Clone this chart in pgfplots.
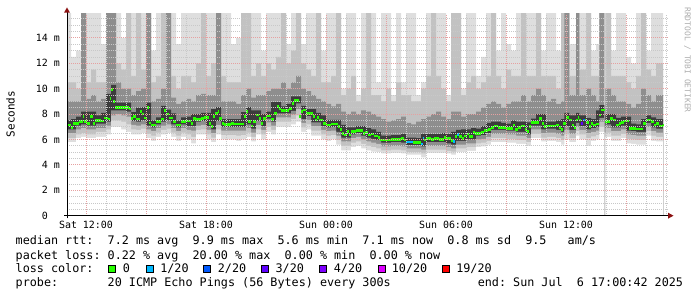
\documentclass[border=0pt]{standalone}
\usepackage{fontspec}
\setmainfont{DejaVu Sans Mono}
\setmonofont{DejaVu Sans Mono}
\usepackage{pgfplots}
\pgfplotsset{compat=1.18}
\usepackage{pgfplotstable}
\frenchspacing
\definecolor{cD}{HTML}{DEDEDE}
\definecolor{cC}{HTML}{C2C2C2}
\definecolor{cB}{HTML}{8E8E8E}
\definecolor{cA}{HTML}{3C3C3C}
\definecolor{lossg}{HTML}{26FF00}
\definecolor{loss1}{HTML}{00B8FF}
\definecolor{loss2}{HTML}{0059FF}
\definecolor{loss3}{HTML}{5E00FF}
\definecolor{loss4}{HTML}{7E00FF}
\definecolor{loss10}{HTML}{DD00FF}
\definecolor{loss19}{HTML}{FF0000}
\definecolor{gridmaj}{HTML}{E6A0A0}
\definecolor{gridmin}{HTML}{C8C8C8}
\definecolor{arrowred}{HTML}{8B1010}

% smoke bands (ms), time in hours from Sat 00:00
\pgfplotstableread{
t l4 l3 l2 l1 h1 h2 h3 h4
11.00 5.8 6.1 6.5 6.8 7.5 9.0 10.5 16
11.25 5.8 6.1 6.5 6.8 7.6 9.0 10.5 12.5
11.50 6.1 6.4 6.8 7.1 7.8 9.0 10.0 13.0
11.75 6.2 6.5 6.9 7.2 8.2 16 16 16
12.00 6.1 6.4 6.8 7.1 8.2 9.2 10.5 16
12.25 6.1 6.4 6.8 7.1 8.2 9.5 11.5 16
12.50 6.2 6.6 6.9 7.25 7.9 9.0 10.5 16
12.75 6.2 6.6 6.9 7.25 8.1 9.2 10.5 13.5
13.00 6.4 6.8 7.1 7.4 9.6 16 16 16
13.25 7.0 7.5 7.9 8.3 10.3 16 16 16
13.50 7.0 7.5 8.0 8.3 8.9 10.5 12.0 16
13.75 6.8 7.4 7.9 8.3 8.9 10.0 11.5 14.0
14.00 6.6 7.2 7.8 8.2 8.9 10.0 16 16
14.25 6.4 6.8 7.15 7.45 8.15 9.5 11.0 16
14.50 6.4 6.75 7.1 7.4 8.5 9.8 16 16
14.75 6.5 6.85 7.2 7.5 8.55 10.0 11.5 16
15.00 6.1 6.45 6.8 7.1 8.9 16 16 16
15.25 5.9 6.3 6.65 6.95 7.5 9.0 10.5 13.0
15.50 6.2 6.55 6.9 7.2 7.75 9.2 11.0 16
15.75 6.4 6.75 7.1 7.4 8.65 10.0 16 16
16.00 6.5 6.85 7.2 7.5 8.35 16 16 16
16.25 6.2 6.55 6.9 7.2 8.05 9.3 11.0 16
16.50 5.9 6.3 6.65 6.95 7.5 8.8 10.0 13.5
16.75 6.2 6.55 6.9 7.2 7.75 9.0 11.0 16
17.00 6.0 6.4 6.75 7.05 7.8 9.2 11.0 16
17.25 5.7 6.2 6.7 7.05 8.0 9.0 10.5 16
17.50 6.4 6.75 7.1 7.4 8.0 9.5 12.0 16
17.75 6.4 6.8 7.15 7.45 8.1 9.6 16 16
18.00 6.0 6.4 6.75 7.05 8.1 9.5 11.0 16
18.25 5.8 6.15 6.5 6.8 8.4 9.5 12.0 16
18.50 6.4 6.8 7.15 7.45 8.55 16 16 16
18.75 6.0 6.35 6.7 7.0 7.6 9.0 11.0 16
19.00 6.0 6.35 6.7 7.0 7.6 9.0 10.5 16
19.25 6.0 6.35 6.7 7.0 7.6 9.0 10.5 13.5
19.50 5.9 6.3 6.7 7.0 7.6 8.8 10.5 14.0
19.75 6.0 6.35 6.7 7.0 8.15 9.5 16 16
20.00 6.2 6.55 6.9 7.2 8.55 10.0 16 16
20.25 5.85 6.2 6.55 6.85 8.3 9.3 11.0 16
20.50 6.4 6.8 7.15 7.45 8.3 9.5 12.0 16
20.75 6.0 6.4 6.75 7.05 8.0 9.5 11.0 13.0
21.00 6.6 7.0 7.35 7.65 8.2 9.8 12.0 16
21.25 6.4 6.75 7.1 7.4 8.95 10.0 11.5 16
21.50 7.0 7.4 7.75 8.05 8.95 10.0 12.5 16
21.75 7.0 7.4 7.75 8.05 8.6 10.5 16 16
22.00 7.0 7.4 7.75 8.05 8.8 10.0 12.0 13.5
22.25 7.2 7.6 7.95 8.25 9.4 10.5 13.0 16
22.50 7.4 7.9 8.4 8.85 9.4 11.0 16 16
22.75 6.6 6.95 7.3 7.6 8.65 10.0 12.0 13.5
23.00 6.8 7.2 7.55 7.85 8.4 9.8 11.5 16
23.25 6.3 6.7 7.05 7.35 8.4 9.5 11.0 16
23.50 6.3 6.7 7.05 7.35 8.1 9.2 16 16
23.75 6.0 6.4 6.75 7.05 7.9 9.0 10.5 13.0
24.00 5.9 6.3 6.65 6.95 7.55 8.8 10.5 16
24.25 6.0 6.35 6.7 7.0 7.55 8.6 11.0 16
24.50 5.6 5.95 6.3 6.6 7.55 8.8 16 16
24.75 5.15 5.5 5.85 6.15 7.15 8.2 9.5 10.0
25.00 5.15 5.5 5.85 6.15 6.95 8.0 10.0 16
25.25 5.4 5.75 6.1 6.4 6.95 8.2 11.0 16
25.50 5.5 5.85 6.2 6.5 7.05 8.0 9.0 9.5
25.75 5.3 5.65 6.0 6.3 7.05 8.3 10.0 16
26.00 5.15 5.5 5.85 6.15 6.9 8.2 16 16
26.25 5.05 5.4 5.75 6.05 6.8 8.0 9.5 16
26.50 5.0 5.3 5.65 5.95 6.6 7.8 9.5 10.5
26.75 4.9 5.15 5.45 5.75 6.3 7.6 9.0 16
27.00 4.9 5.15 5.45 5.75 6.3 7.4 10.0 16
27.25 4.95 5.2 5.5 5.8 6.35 7.5 9.0 9.5
27.50 4.95 5.2 5.5 5.8 6.35 7.6 10.5 16
27.75 4.9 5.15 5.45 5.75 6.45 7.8 9.5 10.5
28.00 4.8 5.0 5.3 5.55 6.15 7.3 9.5 16
28.25 4.8 5.0 5.3 5.55 6.15 7.2 9.0 16
28.50 4.8 5.0 5.3 5.55 6.1 7.4 9.0 9.5
28.75 4.6 4.9 5.2 5.45 6.45 7.6 10.0 10.5
29.00 4.95 5.2 5.5 5.8 6.45 7.8 11.0 16
29.25 4.95 5.2 5.5 5.8 6.45 8.0 16 16
29.50 4.95 5.2 5.5 5.8 6.45 8.2 11.0 16
29.75 4.95 5.2 5.5 5.8 6.5 7.8 10.0 16
30.00 4.9 5.1 5.4 5.7 6.45 7.6 9.0 9.5
30.25 4.8 5.05 5.3 5.6 6.6 8.2 16 16
30.50 5.0 5.3 5.6 5.9 6.75 8.2 16 16
30.75 5.0 5.3 5.6 5.9 6.8 7.8 9.5 10.0
31.00 5.1 5.4 5.7 6.0 6.8 8.0 10.5 16
31.25 5.1 5.4 5.7 6.0 6.9 8.0 11.0 16
31.50 5.4 5.7 6.0 6.3 6.85 8.2 10.0 11.0
31.75 5.45 5.75 6.05 6.35 7.05 8.5 10.5 12.5
32.00 5.6 5.9 6.2 6.5 7.3 8.8 11.0 16
32.25 5.8 6.1 6.45 6.75 7.4 9.0 16 16
32.50 5.8 6.1 6.45 6.75 7.4 8.8 11.0 13.0
32.75 5.8 6.1 6.45 6.75 7.3 8.5 10.0 16
33.00 5.75 6.05 6.4 6.7 7.25 8.8 11.5 13.5
33.25 5.75 6.05 6.4 6.7 7.5 9.0 11.0 13.0
33.50 5.65 5.95 6.3 6.6 7.4 9.0 11.0 16
33.75 5.65 5.95 6.3 6.6 7.4 9.5 16 16
34.00 5.5 5.8 6.1 6.4 7.35 9.0 11.0 16
34.25 6.1 6.45 6.8 7.1 7.65 9.5 11.0 16
34.50 6.1 6.45 6.8 7.1 8.0 10.0 16 16
34.75 5.85 6.15 6.5 6.8 8.0 9.5 11.0 13.0
35.00 5.9 6.2 6.55 6.85 7.4 9.0 11.0 16
35.25 5.9 6.2 6.55 6.85 7.4 9.2 11.0 16
35.50 5.8 6.1 6.45 6.75 7.5 8.8 10.0 13.0
35.75 5.6 5.95 6.3 6.6 7.6 9.0 16 16
35.92 6.0 6.4 6.75 7.05 8.1 16 16 16
36.17 5.8 6.1 6.45 6.75 7.9 9.5 11.0 13.5
36.50 6.3 6.65 7.0 7.3 8.1 16 16 16
36.67 6.0 6.4 6.75 7.05 7.9 9.5 11.5 16
37.00 5.5 6.1 6.5 6.8 7.7 10.0 16 16
37.25 5.9 6.25 6.6 6.9 7.6 9.5 11.0 13.0
37.50 6.0 6.35 6.7 7.0 8.3 9.0 11.0 13.5
37.67 6.6 7.0 7.4 7.7 8.7 16 16 16
37.92 0 0 0 0 0 0 0 0
37.97 6.2 6.55 6.9 7.2 8.0 10.0 16 16
38.25 5.9 6.3 6.65 6.95 8.0 9.5 11.0 13.0
38.50 5.9 6.3 6.65 6.95 7.7 9.0 11.0 16
38.75 6.1 6.45 6.8 7.1 7.8 9.0 11.0 16
39.00 5.7 6.05 6.4 6.7 7.8 8.8 10.5 12.5
39.25 5.65 6.0 6.35 6.65 7.25 8.5 10.0 12.0
39.50 5.6 5.95 6.3 6.6 7.2 8.8 11.0 16
39.75 5.6 5.95 6.3 6.6 7.6 10.0 16 16
40.00 6.3 6.65 7.0 7.3 7.9 9.5 11.5 13.0
40.25 5.9 6.3 6.65 6.95 7.75 9.0 11.0 16
40.50 5.85 6.2 6.55 6.85 7.6 9.5 12.0 16
40.85 5.85 6.2 6.55 6.85 7.6 9.5 12.0 16
}\smoke

% median rtt (ms), held from t to the next t
\pgfplotstableread{
t m
11.00 7.14
11.25 6.96
11.37 7.27
11.67 7.40
11.83 7.80
11.92 7.40
12.03 7.27
12.20 7.80
12.33 7.27
12.43 7.50
12.75 7.45
12.92 7.70
13.08 7.60
13.18 9.24
13.25 9.95
13.37 8.98
13.47 8.54
14.17 8.40
14.25 7.67
14.33 7.80
14.50 7.60
14.70 8.20
14.80 8.00
14.92 7.70
15.03 8.54
15.17 7.30
15.25 7.14
15.50 7.40
15.75 7.60
15.92 8.30
16.00 8.00
16.17 7.70
16.33 7.40
16.50 7.14
16.75 7.40
17.00 7.46
17.25 7.27
17.37 7.67
17.50 7.59
17.75 7.67
17.92 7.74
18.17 7.27
18.25 7.00
18.33 7.80
18.47 8.06
18.58 8.19
18.67 7.67
18.80 7.27
18.92 7.20
19.25 7.27
19.42 7.22
19.92 7.80
20.00 8.19
20.08 7.40
20.25 7.06
20.33 7.40
20.50 7.93
20.63 7.67
20.75 7.27
20.87 7.67
21.00 7.85
21.25 7.59
21.42 8.06
21.53 8.59
21.63 8.40
21.75 8.27
22.17 8.45
22.30 8.85
22.42 9.06
22.67 7.80
22.75 8.19
22.83 8.32
23.00 8.06
23.33 7.80
23.47 7.53
23.53 7.74
23.67 7.53
23.83 7.27
24.00 7.14
24.25 7.22
24.58 7.00
24.70 6.80
24.80 6.49
24.92 6.35
25.03 6.61
25.17 6.35
25.25 6.61
25.50 6.69
25.83 6.49
25.97 6.54
26.08 6.35
26.25 6.43
26.42 6.27
26.58 6.17
26.70 5.96
27.25 6.01
27.75 6.09
27.92 5.96
28.00 5.80
28.33 5.75
28.75 5.64
28.83 6.09
28.92 5.96
29.00 6.09
29.25 6.01
29.42 6.09
29.67 6.01
29.92 6.17
30.00 6.09
30.25 5.91
30.33 5.83
30.47 6.22
30.53 6.40
30.67 6.22
30.80 6.09
30.92 6.27
31.03 6.43
31.17 6.22
31.33 6.54
31.47 6.49
31.75 6.54
31.92 6.69
32.08 6.80
32.25 6.96
32.42 7.06
32.58 6.96
33.00 6.88
33.37 7.14
33.47 6.80
33.58 6.96
33.75 7.06
33.97 6.80
34.03 6.61
34.17 7.01
34.25 7.32
34.67 7.67
34.80 7.27
34.92 7.01
35.00 7.06
35.50 7.14
35.67 6.96
35.75 6.80
35.83 7.27
36.00 7.74
36.17 7.53
36.30 7.14
36.42 6.96
36.50 7.53
36.58 7.74
36.67 7.53
36.75 7.27
36.87 7.53
37.00 7.32
37.13 7.01
37.25 7.27
37.37 7.14
37.50 7.22
37.67 7.93
37.75 8.32
37.97 7.40
38.20 7.67
38.33 7.53
38.50 7.14
38.63 7.27
38.75 7.32
38.92 7.46
39.17 6.88
39.50 6.82
39.83 7.27
40.00 7.53
40.25 7.40
40.42 7.14
40.50 7.27
40.67 7.06
40.83 7.14
40.85 7.14
}\median

\newcommand{\lf}{\fontsize{11.8}{13.8}\selectfont}

\begin{document}
\begin{tikzpicture}
\useasboundingbox (0,0) rectangle (697bp,297bp);
\begin{axis}[
  at={(67bp,81.3bp)}, anchor=south west,
  width=601bp, height=201.93bp, scale only axis,
  xmin=11.05, xmax=41.1, ymin=0, ymax=15.9,
  axis on top,
  axis line style={draw=none},
  xtick={12,15,...,39},
  xticklabels={Sat 12:00,,Sat 18:00,,Sun 00:00,,Sun 06:00,,Sun 12:00,},
  minor xtick={11,13,14,16,17,19,20,22,23,25,26,28,29,31,32,34,35,37,38,40,41},
  ytick={0,2,...,14},
  yticklabels={0\phantom{xm},2 m,4 m,6 m,8 m,10 m,12 m,14 m},
  minor ytick={0.5,1,1.5,2.5,3,3.5,4.5,5,5.5,6.5,7,7.5,8.5,9,9.5,10.5,11,11.5,12.5,13,13.5,14.5,15,15.5},
  grid=both,
  major grid style={gridmaj, line width=0.8bp, dash pattern=on 1bp off 1bp},
  minor grid style={gridmin, line width=0.8bp, dash pattern=on 1bp off 1bp},
  major tick length=0pt, minor tick length=0pt,
  tick label style={font=\fontsize{10}{12}\selectfont},
  xticklabel style={anchor=base, inner sep=0pt, yshift=-12.6bp},
  yticklabel style={anchor=east, inner sep=0pt, xshift=-7bp},
]
\addplot[const plot, fill=cD, draw=none] table[x=t,y=h4]{\smoke} \closedcycle;
\addplot[const plot, fill=cC, draw=none] table[x=t,y=h3]{\smoke} \closedcycle;
\addplot[const plot, fill=cB, draw=none] table[x=t,y=h2]{\smoke} \closedcycle;
\addplot[const plot, fill=cA, draw=none] table[x=t,y=h1]{\smoke} \closedcycle;
\addplot[const plot, fill=cB, draw=none] table[x=t,y=l1]{\smoke} \closedcycle;
\addplot[const plot, fill=cC, draw=none] table[x=t,y=l2]{\smoke} \closedcycle;
\addplot[const plot, fill=cD, draw=none] table[x=t,y=l3]{\smoke} \closedcycle;
\addplot[const plot, fill=white, draw=none] table[x=t,y=l4]{\smoke} \closedcycle;
\addplot[jump mark left, lossg, line width=2.6bp] table[x=t,y=m]{\median};
\addplot[loss1, line width=2.6bp] coordinates {(28.00,5.80) (28.33,5.80)};
\addplot[loss1, line width=2.6bp] coordinates {(28.75,5.64) (28.83,5.64)};
\addplot[loss1, line width=2.6bp] coordinates {(28.83,6.09) (28.92,6.09)};
\addplot[loss1, line width=2.6bp] coordinates {(30.33,5.83) (30.47,5.83)};
\addplot[loss1, line width=2.6bp] coordinates {(30.53,6.40) (30.67,6.40)};
\addplot[loss3, line width=2.6bp] coordinates {(36.75,7.27) (36.87,7.27)};
\addplot[loss2, line width=2.6bp] coordinates {(36.87,7.53) (36.95,7.53)};
\end{axis}
% axes and arrows
\draw[black, line width=1bp] (64bp,81.3bp) -- (668.5bp,81.3bp);
\draw[black, line width=1bp] (67bp,78.5bp) -- (67bp,284.5bp);
\fill[arrowred] (668bp,84.3bp) -- (673.5bp,81.3bp) -- (668bp,78.3bp) -- cycle;
\fill[arrowred] (64bp,284.3bp) -- (67bp,289.5bp) -- (70bp,284.3bp) -- cycle;
% labels
\node[rotate=90, inner sep=0pt, font=\fontsize{11}{13}\selectfont] at (10.5bp,183bp) {Seconds};
\node[rotate=-90, inner sep=0pt, text=black!32, font=\fontsize{8}{10}\selectfont] at (687.5bp,237bp) {RRDTOOL / TOBI OETIKER};
% legend text
\node[anchor=base west, inner sep=0pt, font=\lf] at (15.5bp,52bp) {median rtt:~~7.2 ms avg~~9.9 ms max~~5.6 ms min~~7.1 ms now~~0.8 ms sd~~9.5~~~am/s};
\node[anchor=base west, inner sep=0pt, font=\lf] at (15.5bp,38bp) {packet loss:~0.22~\%~avg~~20.00~\%~max~~0.00~\%~min~~0.00~\%~now};
\node[anchor=base west, inner sep=0pt, font=\lf] at (15.5bp,24.3bp) {loss color:};
\node[anchor=base west, inner sep=0pt, font=\lf] at (15.5bp,10.3bp) {probe:~~~~~~~20 ICMP Echo Pings (56 Bytes) every 300s};
\node[anchor=base west, inner sep=0pt, font=\lf] at (477.6bp,10.3bp) {end: Sun Jul~~6 17:00:42 2025};
% loss color boxes
\filldraw[fill=lossg, draw=black, line width=0.8bp] (108.8bp,24.8bp) rectangle (115.5bp,31.5bp);
\filldraw[fill=loss1, draw=black, line width=0.8bp] (146.2bp,24.8bp) rectangle (152.9bp,31.5bp);
\filldraw[fill=loss2, draw=black, line width=0.8bp] (203.8bp,24.8bp) rectangle (210.5bp,31.5bp);
\filldraw[fill=loss3, draw=black, line width=0.8bp] (261.5bp,24.8bp) rectangle (268.2bp,31.5bp);
\filldraw[fill=loss4, draw=black, line width=0.8bp] (319.5bp,24.8bp) rectangle (326.2bp,31.5bp);
\filldraw[fill=loss10, draw=black, line width=0.8bp] (378.2bp,24.8bp) rectangle (384.9bp,31.5bp);
\filldraw[fill=loss19, draw=black, line width=0.8bp] (442.8bp,24.8bp) rectangle (449.5bp,31.5bp);
\node[anchor=base west, inner sep=0pt, font=\lf] at (122.7bp,24.3bp) {0};
\node[anchor=base west, inner sep=0pt, font=\lf] at (160.1bp,24.3bp) {1/20};
\node[anchor=base west, inner sep=0pt, font=\lf] at (217.7bp,24.3bp) {2/20};
\node[anchor=base west, inner sep=0pt, font=\lf] at (275.4bp,24.3bp) {3/20};
\node[anchor=base west, inner sep=0pt, font=\lf] at (333.7bp,24.3bp) {4/20};
\node[anchor=base west, inner sep=0pt, font=\lf] at (391.7bp,24.3bp) {10/20};
\node[anchor=base west, inner sep=0pt, font=\lf] at (456.1bp,24.3bp) {19/20};
\end{tikzpicture}
\end{document}
